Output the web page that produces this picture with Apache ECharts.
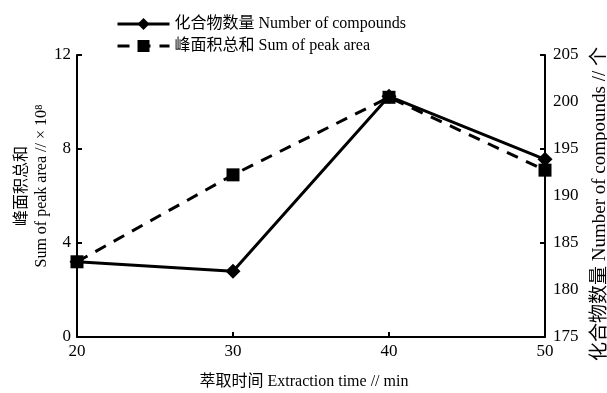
<!DOCTYPE html>
<html>
<head>
<meta charset="utf-8">
<script src="https://cdn.jsdelivr.net/npm/echarts@6/dist/echarts.min.js"></script>
<style>html,body{margin:0;padding:0;background:#fff}#c{width:607px;height:393px}</style>
</head>
<body>
<div id="c"></div>
<script>
const times = [20, 30, 40, 50];
const compounds = [183, 182, 200.6, 193.9];
const peakArea = [3.2, 6.9, 10.2, 7.1];
const leftTicks = [0, 12, 4];     // min, max, interval
const rightTicks = [175, 205, 5]; // min, max, interval
const xTicks = [20, 50, 10];

const nameCompounds = '化合物数量 Number of compounds';
const namePeak = '峰面积总和 Sum of peak area';

const FONT = '"Liberation Serif", "Noto Sans CJK SC", serif';
const chart = echarts.init(document.getElementById('c'));
const axisLine = {show: true, lineStyle: {color: '#000', width: 2}};

chart.setOption({
  animation: false,
  backgroundColor: '#fff',
  textStyle: {fontFamily: FONT, color: '#000'},
  grid: {left: 77, right: 62, top: 55, bottom: 56, containLabel: false, outerBoundsMode: 'none'},
  legend: {
    orient: 'vertical', left: 111, top: 11, itemWidth: 52, itemHeight: 15, itemGap: 6,
    textStyle: {fontFamily: FONT, fontSize: 16, color: '#000'},
    lineStyle: {width: 3},
    data: [nameCompounds, namePeak]
  },
  xAxis: {
    type: 'value', min: xTicks[0], max: xTicks[1], interval: xTicks[2],
    axisLine: axisLine,
    axisTick: {show: true, inside: true, length: 5, lineStyle: {color: '#000', width: 2}},
    axisLabel: {color: '#000', fontSize: 17, fontFamily: FONT, margin: 6},
    splitLine: {show: false},
    name: '萃取时间 Extraction time // min', nameLocation: 'middle', nameGap: 37, nameMoveOverlap: false,
    nameTextStyle: {color: '#000', fontSize: 16, fontFamily: FONT, padding: [0, 14, 0, 0]}
  },
  yAxis: [
    {
      type: 'value', position: 'left', min: leftTicks[0], max: leftTicks[1], interval: leftTicks[2],
      axisLine: axisLine,
      axisTick: {show: true, inside: true, length: 5, lineStyle: {color: '#000', width: 2}},
      axisLabel: {color: '#000', fontSize: 17, fontFamily: FONT, margin: 6},
      splitLine: {show: false},
      name: '峰面积总和\nSum of peak area // × 10⁸', nameLocation: 'middle', nameGap: 25, nameRotate: 90,
      nameMoveOverlap: false,
      nameTextStyle: {color: '#000', fontSize: 16, fontFamily: FONT, lineHeight: 20, padding: [0, 0, 0, 20]}
    },
    {
      type: 'value', position: 'right', min: rightTicks[0], max: rightTicks[1], interval: rightTicks[2],
      axisLine: axisLine,
      axisTick: {show: false},
      axisLabel: {color: '#000', fontSize: 17, fontFamily: FONT, margin: 8},
      splitLine: {show: false},
      name: '化合物数量 Number of compounds // 个', nameLocation: 'middle', nameGap: 46, nameRotate: 90,
      nameTextStyle: {color: '#000', fontSize: 19, fontFamily: FONT, padding: [0, 16, 0, 0]}
    },
    {
      type: 'value', position: 'right', min: rightTicks[0], max: rightTicks[1], interval: rightTicks[2] * 2,
      axisLine: {show: false},
      axisTick: {show: true, inside: true, length: 5, lineStyle: {color: '#000', width: 2}},
      axisLabel: {show: false},
      splitLine: {show: false}
    }
  ],
  series: [
    {
      name: nameCompounds, type: 'line', yAxisIndex: 1,
      data: times.map((t, i) => [t, compounds[i]]),
      symbol: 'diamond', symbolSize: 15,
      lineStyle: {color: '#000', width: 3},
      itemStyle: {color: '#000'}
    },
    {
      name: namePeak, type: 'line', yAxisIndex: 0,
      data: times.map((t, i) => [t, peakArea[i]]),
      symbol: 'rect', symbolSize: 13,
      lineStyle: {color: '#000', width: 3, type: [12, 9]},
      itemStyle: {color: '#000'}
    }
  ]
});
</script>
</body>
</html>
